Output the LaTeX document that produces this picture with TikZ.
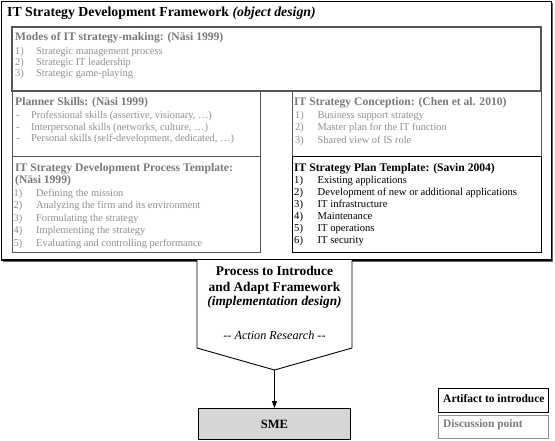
\documentclass[tikz,border=0pt]{standalone}
\usepackage{fontspec}
\setmainfont{Liberation Serif}
\usetikzlibrary{arrows.meta}
\definecolor{disctext}{HTML}{8E8E8E}
\definecolor{dischead}{HTML}{7A7A7A}
\definecolor{discline}{HTML}{555555}
\definecolor{smefill}{HTML}{D6D6D6}
\begin{document}
\begin{tikzpicture}[x=1pt,y=-1pt,
  itemtxt/.style={anchor=base west, inner sep=0pt, font=\fontsize{10.4}{12}\selectfont},
  artitem/.style={anchor=base west, inner sep=0pt, font=\fontsize{10.6}{12}\selectfont},
  headtxt/.style={anchor=base west, inner sep=0pt, font=\fontsize{11.6}{13}\selectfont\bfseries},
  disc/.style={text=disctext},
  dhead/.style={text=dischead},
  discbox/.style={draw=discline, line width=0.9pt},
  artbox/.style={draw=black, line width=0.9pt},
  midtxt/.style={anchor=base, inner sep=0pt, font=\fontsize{13.4}{16}\selectfont\bfseries},
  arrowline/.style={draw=black, line width=0.9pt, -{Triangle[length=7pt,width=5pt]}}
]
\useasboundingbox (0,0) rectangle (555,440);

% outer frame
\draw[line width=1.2pt] (1.5,1.5) rectangle (551.5,260);
\draw[line width=0.8pt, black!60] (552.8,3) -- (552.8,261.3) -- (3,261.3);
\node[anchor=base west, inner sep=0pt, font=\fontsize{13.8}{16}\selectfont\bfseries] (title) at (7,16.7)
  {IT Strategy Development Framework \textit{(object design)}};

% boxes
\draw[discbox, line width=1.1pt] (12,27) rectangle (541,91);
\draw[discbox] (12,91) rectangle (260,156);
\draw[discbox] (12,156) rectangle (260,252);
\draw[discbox] (292,91) rectangle (541,156);
\draw[artbox] (292,156) rectangle (541,252);

% Modes
\node[headtxt, dhead] (mo-h) at (15,40) {Modes of IT strategy-making: (Näsi 1999)};
\foreach \t [count=\i] in {Strategic management process, Strategic IT leadership, Strategic game-playing} {
  \node[itemtxt, disc] (mo-n\i) at ({15},{54+11.3*(\i-1)}) {\i)};
  \node[itemtxt, disc] (mo-t\i) at ({36},{54+11.3*(\i-1)}) {\t};
}

% Planner skills
\node[headtxt, dhead] (pl-h) at (15,105) {Planner Skills: (Näsi 1999)};
\foreach \t [count=\i] in {{Professional skills (assertive, visionary, …)}, {Interpersonal skills (networks, culture, …)}, {Personal skills (self-development, dedicated, …)}} {
  \node[itemtxt, disc] (pl-n\i) at ({16},{118.3+11.7*(\i-1)}) {-};
  \node[itemtxt, disc] (pl-t\i) at ({31},{118.3+11.7*(\i-1)}) {\t};
}

% Process template
\node[headtxt, dhead] (pt-h1) at (15,171) {IT Strategy Development Process Template:};
\node[headtxt, dhead] (pt-h2) at (15,183.5) {(Näsi 1999)};
\foreach \t [count=\i] in {Defining the mission, Analyzing the firm and its environment, Formulating the strategy, Implementing the strategy, Evaluating and controlling performance} {
  \node[itemtxt, disc] (pt-n\i) at ({13.5},{196.5+12.4*(\i-1)}) {\i)};
  \node[itemtxt, disc] (pt-t\i) at ({36},{196.5+12.4*(\i-1)}) {\t};
}

% Conception
\node[headtxt, dhead] (co-h) at (294,105) {IT Strategy Conception: (Chen et al. 2010)};
\foreach \t [count=\i] in {Business support strategy, Master plan for the IT function, Shared view of IS role} {
  \node[itemtxt, disc] (co-n\i) at ({295},{118+12.6*(\i-1)}) {\i)};
  \node[itemtxt, disc] (co-t\i) at ({317.5},{118+12.6*(\i-1)}) {\t};
}

% Plan template
\node[headtxt] (sp-h) at (294,171) {IT Strategy Plan Template: (Savin 2004)};
\foreach \t [count=\i] in {Existing applications, Development of new or additional applications, IT infrastructure, Maintenance, IT operations, IT security} {
  \node[artitem] (sp-n\i) at ({294},{183.5+11.9*(\i-1)}) {\i)};
  \node[artitem] (sp-t\i) at ({317.5},{183.5+11.9*(\i-1)}) {\t};
}

% pentagon
\draw[line width=0.9pt, fill=white] (197,260) -- (197,348) -- (274.5,370) -- (352,348) -- (352,260);
\coordinate (tip) at (274.5,370);
\node[midtxt] (pr1) at (274.5,275.7) {Process to Introduce};
\node[midtxt] (pr2) at (274.5,291.7) {and Adapt Framework};
\node[midtxt] (pr3) at (274.5,305.5) {\textit{(implementation design)}};
\node[midtxt, font=\fontsize{12.2}{16}\selectfont\itshape] (pr4) at (274.5,339) {-{}- Action Research -{}-};

% SME
\node[draw=black, line width=0.9pt, fill=smefill, minimum width=152pt, minimum height=31pt, inner sep=0pt,
  anchor=north, font=\fontsize{12.6}{14}\selectfont\bfseries] (sme) at (274.5,408) {SME};
\draw[arrowline] (tip) -- (sme.north);

% legend
\node[artbox, minimum width=110pt, minimum height=24pt, anchor=north west, inner sep=0pt] (lg1) at (438,388) {};
\node[anchor=base west, inner sep=0pt, font=\fontsize{11.5}{13}\selectfont\bfseries] (lg1t) at (443,402.3) {Artifact to introduce};
\node[draw=disctext, line width=0.9pt, minimum width=110pt, minimum height=23pt, anchor=north west, inner sep=0pt] (lg2) at (438,415) {};
\node[anchor=base west, inner sep=0pt, font=\fontsize{11.4}{13}\selectfont\bfseries, text=dischead] (lg2t) at (443,427.3) {Discussion point};
\end{tikzpicture}
\end{document}
